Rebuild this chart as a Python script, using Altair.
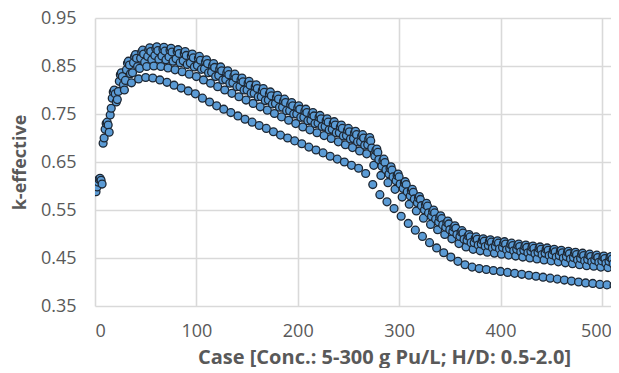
import altair as alt
import pandas as pd

# H/D ratios swept inside each concentration group (cases run group by group)
hd_values = ["0.5", "0.75", "1.0", "1.25", "1.5", "1.75", "2.0"]

# k-effective per H/D, one value per concentration group (74 groups, 5-300 g Pu/L)
k_hd050 = [0.588, 0.689, 0.748, 0.780, 0.800, 0.815, 0.823, 0.826, 0.825, 0.821,
           0.816, 0.810, 0.804, 0.798, 0.792, 0.783, 0.775, 0.767, 0.760, 0.753,
           0.746, 0.739, 0.733, 0.726, 0.720, 0.713, 0.706, 0.700, 0.694, 0.688,
           0.681, 0.675, 0.669, 0.662, 0.656, 0.650, 0.643, 0.637, 0.626, 0.603,
           0.582, 0.567, 0.553, 0.537, 0.522, 0.508, 0.495, 0.482, 0.471, 0.461,
           0.452, 0.443, 0.436, 0.431, 0.428, 0.426, 0.424, 0.422, 0.420, 0.418,
           0.416, 0.414, 0.412, 0.410, 0.408, 0.406, 0.404, 0.402, 0.400, 0.398,
           0.397, 0.395, 0.394, 0.393]
k_hd075 = [0.598, 0.700, 0.762, 0.797, 0.820, 0.836, 0.845, 0.849, 0.850, 0.849,
           0.846, 0.842, 0.838, 0.833, 0.828, 0.821, 0.814, 0.807, 0.800, 0.793,
           0.786, 0.779, 0.772, 0.765, 0.758, 0.751, 0.744, 0.737, 0.730, 0.723,
           0.717, 0.711, 0.705, 0.699, 0.692, 0.686, 0.680, 0.673, 0.667, 0.643,
           0.622, 0.607, 0.593, 0.577, 0.562, 0.548, 0.533, 0.520, 0.509, 0.499,
           0.490, 0.480, 0.473, 0.468, 0.465, 0.462, 0.460, 0.458, 0.456, 0.454,
           0.452, 0.450, 0.448, 0.446, 0.444, 0.442, 0.440, 0.438, 0.436, 0.434,
           0.433, 0.431, 0.430, 0.429]
k_hd100 = [0.608, 0.718, 0.783, 0.818, 0.842, 0.857, 0.866, 0.870, 0.872, 0.871,
           0.869, 0.865, 0.861, 0.856, 0.851, 0.844, 0.837, 0.830, 0.822, 0.815,
           0.807, 0.800, 0.793, 0.786, 0.779, 0.772, 0.764, 0.757, 0.750, 0.743,
           0.737, 0.731, 0.724, 0.718, 0.711, 0.705, 0.699, 0.692, 0.686, 0.662,
           0.641, 0.625, 0.611, 0.595, 0.579, 0.565, 0.550, 0.537, 0.525, 0.514,
           0.505, 0.495, 0.487, 0.482, 0.479, 0.476, 0.474, 0.472, 0.470, 0.468,
           0.466, 0.464, 0.462, 0.460, 0.457, 0.455, 0.453, 0.451, 0.449, 0.447,
           0.446, 0.444, 0.443, 0.442]
k_hd125 = [0.614, 0.730, 0.796, 0.832, 0.856, 0.870, 0.879, 0.884, 0.886, 0.885,
           0.883, 0.880, 0.876, 0.871, 0.866, 0.859, 0.851, 0.844, 0.836, 0.829,
           0.821, 0.814, 0.807, 0.799, 0.792, 0.785, 0.777, 0.770, 0.763, 0.756,
           0.749, 0.743, 0.736, 0.730, 0.723, 0.716, 0.711, 0.704, 0.698, 0.674,
           0.653, 0.637, 0.622, 0.606, 0.590, 0.575, 0.561, 0.547, 0.535, 0.524,
           0.514, 0.504, 0.496, 0.491, 0.487, 0.485, 0.483, 0.481, 0.478, 0.476,
           0.474, 0.472, 0.470, 0.468, 0.466, 0.464, 0.462, 0.460, 0.458, 0.456,
           0.454, 0.452, 0.451, 0.450]
k_hd150 = [0.616, 0.733, 0.800, 0.836, 0.860, 0.874, 0.883, 0.888, 0.890, 0.889,
           0.887, 0.884, 0.880, 0.875, 0.870, 0.863, 0.855, 0.848, 0.840, 0.833,
           0.825, 0.818, 0.811, 0.803, 0.796, 0.789, 0.781, 0.774, 0.767, 0.760,
           0.753, 0.747, 0.740, 0.734, 0.727, 0.720, 0.714, 0.707, 0.701, 0.677,
           0.656, 0.640, 0.625, 0.609, 0.593, 0.578, 0.564, 0.550, 0.538, 0.527,
           0.517, 0.507, 0.499, 0.494, 0.490, 0.488, 0.486, 0.484, 0.481, 0.479,
           0.477, 0.475, 0.473, 0.471, 0.468, 0.466, 0.464, 0.462, 0.460, 0.458,
           0.456, 0.454, 0.453, 0.452]
k_hd175 = [0.612, 0.727, 0.792, 0.828, 0.852, 0.866, 0.875, 0.880, 0.882, 0.881,
           0.879, 0.876, 0.872, 0.867, 0.862, 0.855, 0.847, 0.840, 0.832, 0.825,
           0.817, 0.810, 0.803, 0.795, 0.788, 0.781, 0.774, 0.767, 0.760, 0.753,
           0.746, 0.740, 0.733, 0.727, 0.720, 0.713, 0.707, 0.700, 0.694, 0.670,
           0.649, 0.633, 0.619, 0.603, 0.587, 0.572, 0.558, 0.544, 0.532, 0.521,
           0.512, 0.502, 0.494, 0.489, 0.485, 0.483, 0.481, 0.479, 0.476, 0.474,
           0.472, 0.470, 0.468, 0.466, 0.463, 0.461, 0.459, 0.457, 0.455, 0.453,
           0.451, 0.449, 0.448, 0.447]
k_hd200 = [0.604, 0.712, 0.775, 0.811, 0.834, 0.849, 0.858, 0.863, 0.864, 0.863,
           0.860, 0.857, 0.853, 0.848, 0.843, 0.836, 0.828, 0.821, 0.814, 0.807,
           0.800, 0.793, 0.786, 0.778, 0.771, 0.764, 0.757, 0.750, 0.743, 0.736,
           0.730, 0.724, 0.717, 0.711, 0.704, 0.698, 0.692, 0.685, 0.679, 0.655,
           0.634, 0.619, 0.604, 0.588, 0.573, 0.559, 0.544, 0.531, 0.519, 0.509,
           0.499, 0.489, 0.482, 0.477, 0.474, 0.471, 0.469, 0.467, 0.465, 0.463,
           0.461, 0.459, 0.457, 0.455, 0.452, 0.450, 0.448, 0.446, 0.444, 0.442,
           0.441, 0.439, 0.438, 0.437]

x_ticks = [0, 100, 200, 300, 400, 500]
y_ticks = [0.35, 0.45, 0.55, 0.65, 0.75, 0.85, 0.95]

series = [k_hd050, k_hd075, k_hd100, k_hd125, k_hd150, k_hd175, k_hd200]
n_groups = len(k_hd050)
for s in series:
    if len(s) != n_groups:
        raise ValueError("length mismatch %d vs %d" % (len(s), n_groups))

rows = []
for i in range(n_groups):
    for j, s in enumerate(series):
        rows.append({"case": len(hd_values) * i + j + 1, "hd": hd_values[j], "k": s[i]})
df = pd.DataFrame(rows)

FONT = "Open Sans"
GREY = "#595959"

chart = alt.Chart(df).mark_circle(
    size=62, color="#5B9BD5", opacity=1, stroke="#1d2733", strokeWidth=1.3, clip=True
).encode(
    x=alt.X("case:Q",
            scale=alt.Scale(domain=[0, 509], nice=False, zero=False),
            axis=alt.Axis(values=x_ticks, title="Case [Conc.: 5-300 g Pu/L; H/D: 0.5-2.0]",
                          labelPadding=16,
                          labelOffset={"condition": {"test": "datum.value === 500", "value": -6},
                                       "value": 0},
                          titleX=289, titleY=57, titleFontSize=20,
                          titleBaseline="alphabetic", titleAlign="center")),
    y=alt.Y("k:Q",
            scale=alt.Scale(domain=[0.35, 0.95], nice=False, zero=False),
            axis=alt.Axis(values=y_ticks, format=".2f", title="k-effective",
                          labelPadding=19, titleX=-75, titleY=144, titleFontSize=18,
                          titleAngle=270, titleBaseline="middle", titleAlign="center")),
).properties(
    width=516, height=288,
    autosize=alt.AutoSizeParams(type="none"),
    padding={"left": 87, "top": 10, "right": 0, "bottom": 62},
).configure_view(stroke=None).configure_axis(
    grid=True, gridColor="#d9d9d9", gridWidth=1.6, domain=False, ticks=False,
    labelColor=GREY, labelFont=FONT, labelFontSize=18,
    titleColor=GREY, titleFont=FONT, titleFontWeight="bold",
)

chart.save("out.html", embed_options={"renderer": "svg", "actions": False})
